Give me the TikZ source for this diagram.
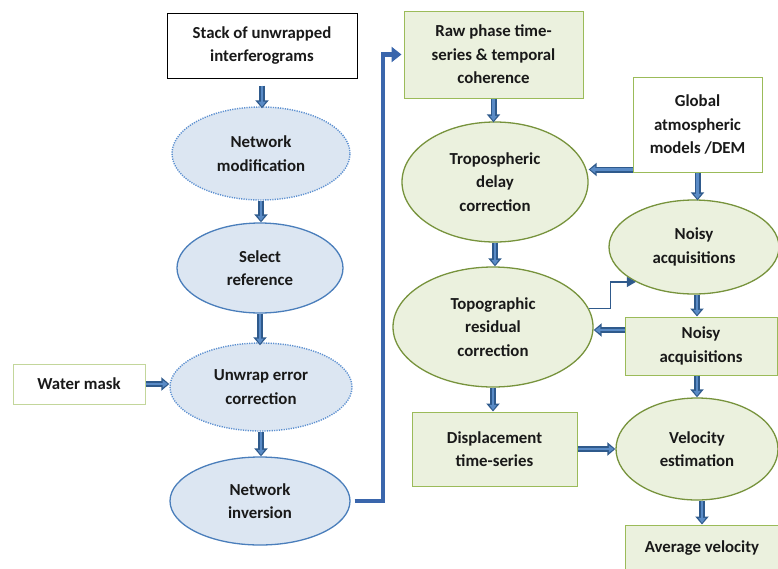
\documentclass[tikz,border=0pt]{standalone}
\usepackage{fontspec}
\setmainfont{Carlito}
\usetikzlibrary{shapes.geometric,arrows.meta}
\definecolor{bfill}{HTML}{DCE6F2}
\definecolor{bline}{HTML}{4A7EBB}
\definecolor{bdot}{HTML}{5B8FD0}
\definecolor{gfill}{HTML}{EBF1DE}
\definecolor{gline}{HTML}{77933C}
\definecolor{gbox}{HTML}{9BBB59}
\definecolor{wline}{HTML}{C3D69B}
\definecolor{adark}{HTML}{2F5A8C}
\definecolor{alight}{HTML}{5A8BC6}
\definecolor{bigblue}{HTML}{3A66AC}
\tikzset{
  txt/.style={font=\fontsize{16.8}{23.5}\selectfont\bfseries, text=black!90, align=center, inner sep=0pt},
  bell/.style={txt, ellipse, fill=bfill, draw=bline, line width=1.3pt},
  dell/.style={txt, ellipse, fill=bfill, draw=bdot, line width=1.4pt, dash pattern=on 1.2pt off 1.2pt},
  gell/.style={txt, ellipse, fill=gfill, draw=gline, line width=1.3pt},
  gbx/.style={txt, rectangle, fill=gfill, draw=gbox, line width=1pt},
  blk/.style={draw=adark, line width=6pt, -{Triangle[length=8pt,width=13pt]},
    postaction={draw=alight, line width=2.4pt, -{Triangle[length=5pt,width=7pt]}, shorten >=1.6pt}},
}
\begin{document}
\begin{tikzpicture}[x=1pt,y=-1pt]
\useasboundingbox (0,0) rectangle (778,568);
\clip (0,0) rectangle (778,568);
% left column
\node[txt, rectangle, draw=black, line width=1pt, fill=white, minimum width=190pt, minimum height=65pt] (stack) at (262,45.5) {Stack of unwrapped\\interferograms};
\node[dell, minimum width=178pt, minimum height=93pt] (netmod) at (261,153.5) {Network\\modification};
\node[bell, minimum width=166pt, minimum height=90pt] (selref) at (260,268) {Select\\reference};
\node[dell, minimum width=182pt, minimum height=88pt] (unwrap) at (261,387) {Unwrap error\\correction};
\node[bell, minimum width=180pt, minimum height=88pt] (ninv) at (260,501) {Network\\inversion};
\node[txt, rectangle, draw=wline, line width=1pt, fill=white, minimum width=132pt, minimum height=40pt] (water) at (79,384) {Water mask};
% right part
\node[gbx, minimum width=179pt, minimum height=87pt] (raw) at (493.5,54.5) {Raw phase time-\\series \& temporal\\coherence};
\node[txt, rectangle, draw=gbox, line width=1pt, fill=white, minimum width=129pt, minimum height=95pt] (global) at (697.5,124.5) {Global\\atmospheric\\models /DEM};
\node[gell, minimum width=186pt, minimum height=120pt] (tropo) at (495,182) {Tropospheric\\delay\\correction};
\node[gell, minimum width=170pt, minimum height=94pt] (noisyA) at (694,247) {Noisy\\acquisitions};
\node[gell, minimum width=200pt, minimum height=120pt] (topo) at (493,327) {Topographic\\residual\\correction};
\node[gbx, minimum width=152pt, minimum height=58pt] (noisyB) at (701,346) {Noisy\\acquisitions};
\node[gbx, minimum width=165pt, minimum height=74pt] (disp) at (494.5,449) {Displacement\\time-series};
\node[gell, minimum width=162pt, minimum height=102pt] (vel) at (697,449) {Velocity\\estimation};
\node[gbx, minimum width=154pt, minimum height=46pt] (avg) at (702,548) {Average velocity};
\coordinate (turn) at (383,0);
% connectors
\draw[blk] ([yshift=-7pt]stack.south) -- ([yshift=-2pt]stack.south |- netmod.north);
\draw[blk] (netmod.south) -- (netmod.south |- selref.north);
\draw[blk] (selref.south) -- ([yshift=-3pt]selref.south |- unwrap.north);
\draw[blk] (unwrap.south) -- (unwrap.south |- ninv.north);
\draw[blk] (water.east) -- (water.east -| unwrap.west);
\draw[draw=bigblue, line width=4.5pt, -{Triangle[length=10pt,width=15pt]}, shorten <=4pt] (ninv.east) -- (ninv.east -| turn) |- ([xshift=-2pt]raw.west);
\draw[blk] (raw.south) -- ([yshift=-1pt]raw.south |- tropo.north);
\draw[blk] ([yshift=3pt]global.south west) -- ([yshift=3pt]global.south west -| tropo.east);
\draw[blk] (global.south) -- ([yshift=-1pt]global.south |- noisyA.north);
\draw[blk] (tropo.south) -- (tropo.south |- topo.north);
\draw[blk] ([xshift=3pt]noisyA.south) -- ([xshift=3pt]noisyA.south |- noisyB.north);
\draw[blk] ([yshift=16pt]noisyB.west) -- ([yshift=16pt]noisyB.west -| topo.east);
\draw[draw=adark, line width=1.4pt, -{Triangle[length=9pt,width=10pt]}] (topo.11) -- ++(22,0) |- (noisyA.211);
\draw[blk] (topo.south) -- (topo.south |- disp.north);
\draw[blk] (disp.east) -- (disp.east -| vel.west);
\draw[blk] ([xshift=-4pt]noisyB.south) -- ([xshift=-4pt]noisyB.south |- vel.north);
\draw[blk] ([xshift=5pt]vel.south) -- ([xshift=5pt]vel.south |- avg.north);
\end{tikzpicture}
\end{document}
